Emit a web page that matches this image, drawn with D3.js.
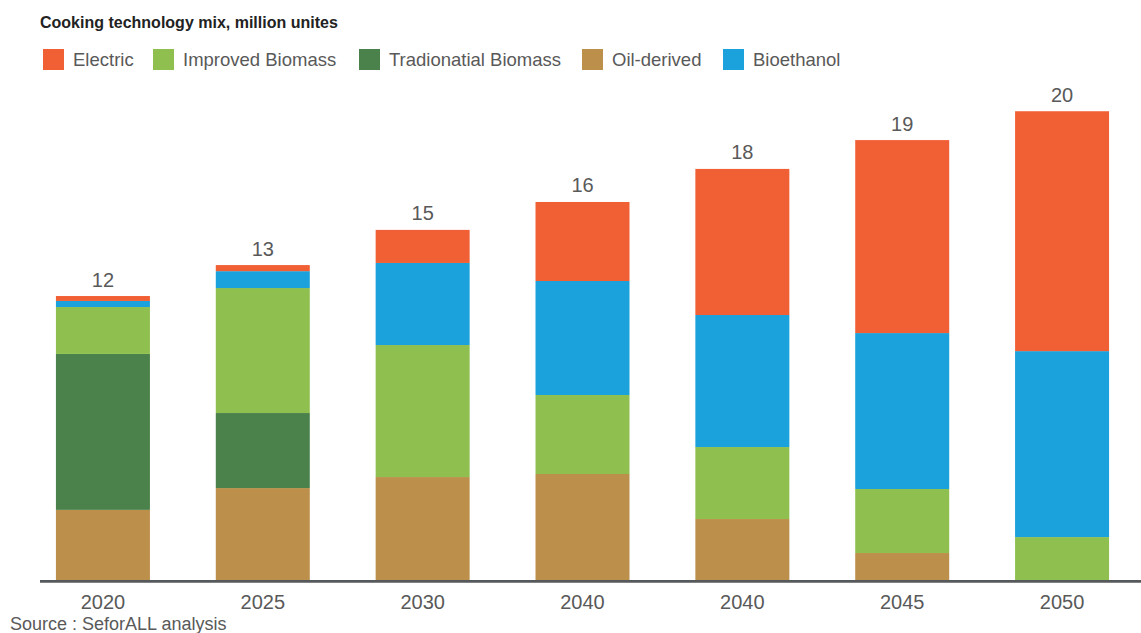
<!DOCTYPE html>
<meta charset="utf-8">
<script src="https://d3js.org/d3.v7.min.js"></script>
<style>
  body { margin: 0; background: #fff; }
  text { font-family: "Liberation Sans", Arial, sans-serif; }
</style>
<div id="chart"></div>
<script>

    // years on the x axis (2040 appears twice in the source)
    const years = ["2020", "2025", "2030", "2040", "2040", "2045", "2050"];

    // series, million units, stacked bottom -> top
    const oilDerived  = [2.99, 3.92, 4.39, 4.52, 2.60, 1.15, 0.00];
    const traditional = [6.65, 3.20, 0.00, 0.00, 0.00, 0.00, 0.00];
    const improved    = [2.00, 5.33, 5.63, 3.37, 3.07, 2.73, 1.83];
    const bioethanol  = [0.26, 0.72, 3.50, 4.86, 5.63, 6.65, 7.93];
    const electric    = [0.21, 0.26, 1.41, 3.37, 6.23, 8.23, 10.23];

    const stackKeys = ["oil", "trad", "impr", "bio", "elec"];
    const names = {
      elec: "Electric", impr: "Improved Biomass", trad: "Tradionatial Biomass",
      oil: "Oil-derived", bio: "Bioethanol"
    };
    const legendOrder = ["elec", "impr", "trad", "oil", "bio"];
    const colors = {
      elec: "#f16035", impr: "#8fc04f", trad: "#4b814b", oil: "#bc904b", bio: "#1ba1db"
    };

    // table for d3.stack
    const data = years.map((yr, i) => ({
      idx: i, year: yr,
      oil: oilDerived[i], trad: traditional[i], impr: improved[i],
      bio: bioethanol[i], elec: electric[i]
    }));

    const W = 1141, H = 633;
    const svg = d3.select("#chart").append("svg")
      .attr("width", W).attr("height", H);

    const x = d3.scaleBand()
      .domain(data.map(d => d.idx))
      .range([23, 1142])
      .paddingInner(0.412)
      .paddingOuter(0.206);

    const y = d3.scaleLinear()
      .domain([0, 22])
      .range([580, 580 - 22 * 23.45]);

    const stacked = d3.stack().keys(stackKeys)(data);

    // bars
    svg.append("g")
      .selectAll("g")
      .data(stacked)
      .join("g")
        .attr("fill", d => colors[d.key])
      .selectAll("rect")
      .data(d => d)
      .join("rect")
        .attr("x", d => x(d.data.idx))
        .attr("y", d => y(d[1]))
        .attr("width", x.bandwidth())
        .attr("height", d => y(d[0]) - y(d[1]));

    // totals above bars
    svg.append("g")
      .selectAll("text")
      .data(data)
      .join("text")
        .attr("x", d => x(d.idx) + x.bandwidth() / 2)
        .attr("y", d => y(stackKeys.reduce((s, k) => s + d[k], 0)) - 9.5)
        .attr("text-anchor", "middle")
        .attr("font-size", "20px")
        .attr("fill", "#595959")
        .text(d => d3.format(".0f")(stackKeys.reduce((s, k) => s + d[k], 0)));

    // baseline
    svg.append("line")
      .attr("x1", 40).attr("x2", W)
      .attr("y1", y(0) + 1.3).attr("y2", y(0) + 1.3)
      .attr("stroke", "#56595b")
      .attr("stroke-width", 2.7);

    // x axis labels
    const xAxis = svg.append("g")
      .attr("transform", `translate(0, ${y(0) + 12})`)
      .call(d3.axisBottom(x).tickSize(0).tickFormat(i => years[i]));
    xAxis.select(".domain").remove();
    xAxis.selectAll("text")
      .attr("font-size", "20px")
      .attr("font-family", "'Liberation Sans', Arial, sans-serif")
      .attr("fill", "#595959")
      .attr("dy", "0.71em");

    // title
    svg.append("text")
      .attr("x", 40).attr("y", 27.5)
      .attr("font-size", "16px")
      .attr("font-weight", "bold")
      .attr("fill", "#222")
      .text("Cooking technology mix, million unites");

    // legend
    const legendX = [43, 153, 359, 582, 723];
    const legend = svg.append("g")
      .selectAll("g")
      .data(legendOrder)
      .join("g")
        .attr("transform", (d, i) => `translate(${legendX[i]}, 49)`);
    legend.append("rect")
      .attr("width", 21).attr("height", 21)
      .attr("fill", d => colors[d]);
    legend.append("text")
      .attr("x", 30).attr("y", 16.5)
      .attr("font-size", "18.5px")
      .attr("fill", "#595959")
      .text(d => names[d]);

    // source
    svg.append("text")
      .attr("x", 10).attr("y", 630)
      .attr("font-size", "18px")
      .attr("fill", "#595959")
      .text("Source : SeforALL analysis");

</script>
